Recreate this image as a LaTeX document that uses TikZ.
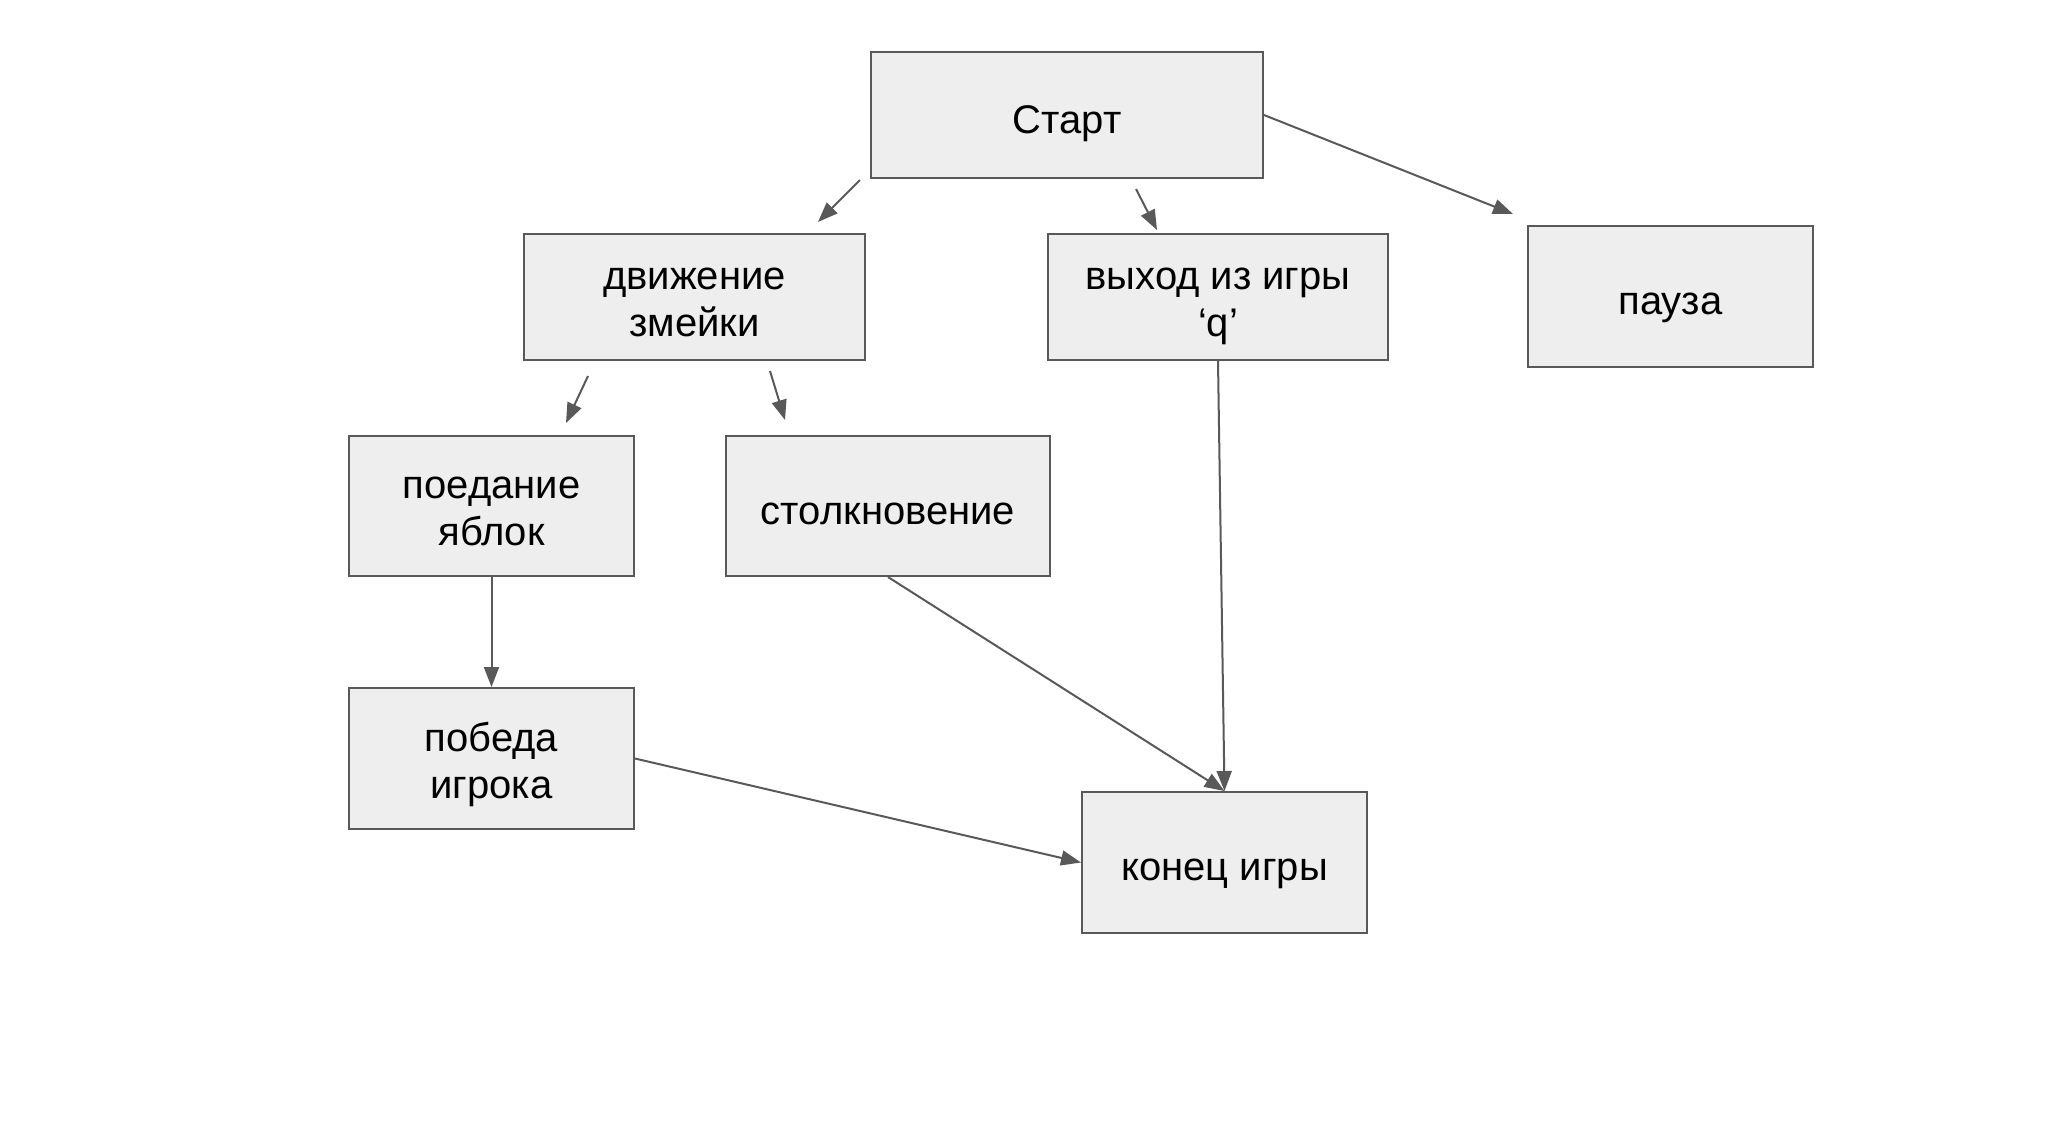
\documentclass[tikz,border=0pt]{standalone}
\usepackage{fontspec}
\setmainfont{Liberation Sans}
\usetikzlibrary{arrows.meta}
\definecolor{lineg}{HTML}{595959}
\definecolor{boxfill}{HTML}{EEEEEE}
\newcommand{\topstrut}{\rule{0pt}{23pt}}
\newcommand{\firstline}{\rule{0pt}{21pt}}
\newcommand{\botstrut}{\rule[-5pt]{0pt}{5pt}}
\begin{document}
\begin{tikzpicture}[x=0.5pt,y=-0.5pt,
  box/.style={draw=lineg, fill=boxfill, line width=1pt, inner sep=0pt, align=center,
    font=\fontsize{20pt}{23.5pt}\selectfont, text=black,
    execute at begin node=\topstrut, execute at end node=\botstrut},
  conn/.style={draw=lineg, line width=1pt, -{Triangle[length=10pt,width=7.5pt]}}]
\useasboundingbox (0,0) rectangle (2057,1132);
\node[box, minimum width=196pt, minimum height=63pt] (start) at (1067,115) {Старт};
\node[box, minimum width=170.5pt, minimum height=63pt] (move) at (694.5,297) {\firstline движение\\змейки};
\node[box, minimum width=170pt, minimum height=63pt] (quit) at (1218,297) {\firstline выход из игры\\‘q’};
\node[box, minimum width=142.5pt, minimum height=70.5pt] (pause) at (1670.5,296.5) {пауза};
\node[box, minimum width=142.5pt, minimum height=70pt] (eat) at (491.5,506) {\firstline поедание\\яблок};
\node[box, minimum width=162pt, minimum height=70pt] (coll) at (888,506) {столкновение};
\node[box, minimum width=142.5pt, minimum height=70.5pt] (win) at (491.5,758.5) {\firstline победа\\игрока};
\node[box, minimum width=142.5pt, minimum height=70.5pt] (end) at (1224.5,862.5) {конец игры};
% free connector ends
\coordinate (a1) at (860,180); \coordinate (b1) at (818,222);
\coordinate (a2) at (1136,189); \coordinate (b2) at (1157,230);
\coordinate (b3) at (1513,214);
\coordinate (a4) at (588,376); \coordinate (b4) at (566,423);
\coordinate (a5) at (770,371); \coordinate (b5) at (785,420);
\draw[conn] (a1) -- (b1);
\draw[conn] (a2) -- (b2);
\draw[conn] (start.east) -- (b3);
\draw[conn] (a4) -- (b4);
\draw[conn] (a5) -- (b5);
\draw[conn] (eat.south) -- (win.north);
\draw[conn] (coll.south) -- (end.north);
\draw[conn] (quit.south) -- (end.north);
\draw[conn] (win.east) -- (end.west);
\end{tikzpicture}
\end{document}
